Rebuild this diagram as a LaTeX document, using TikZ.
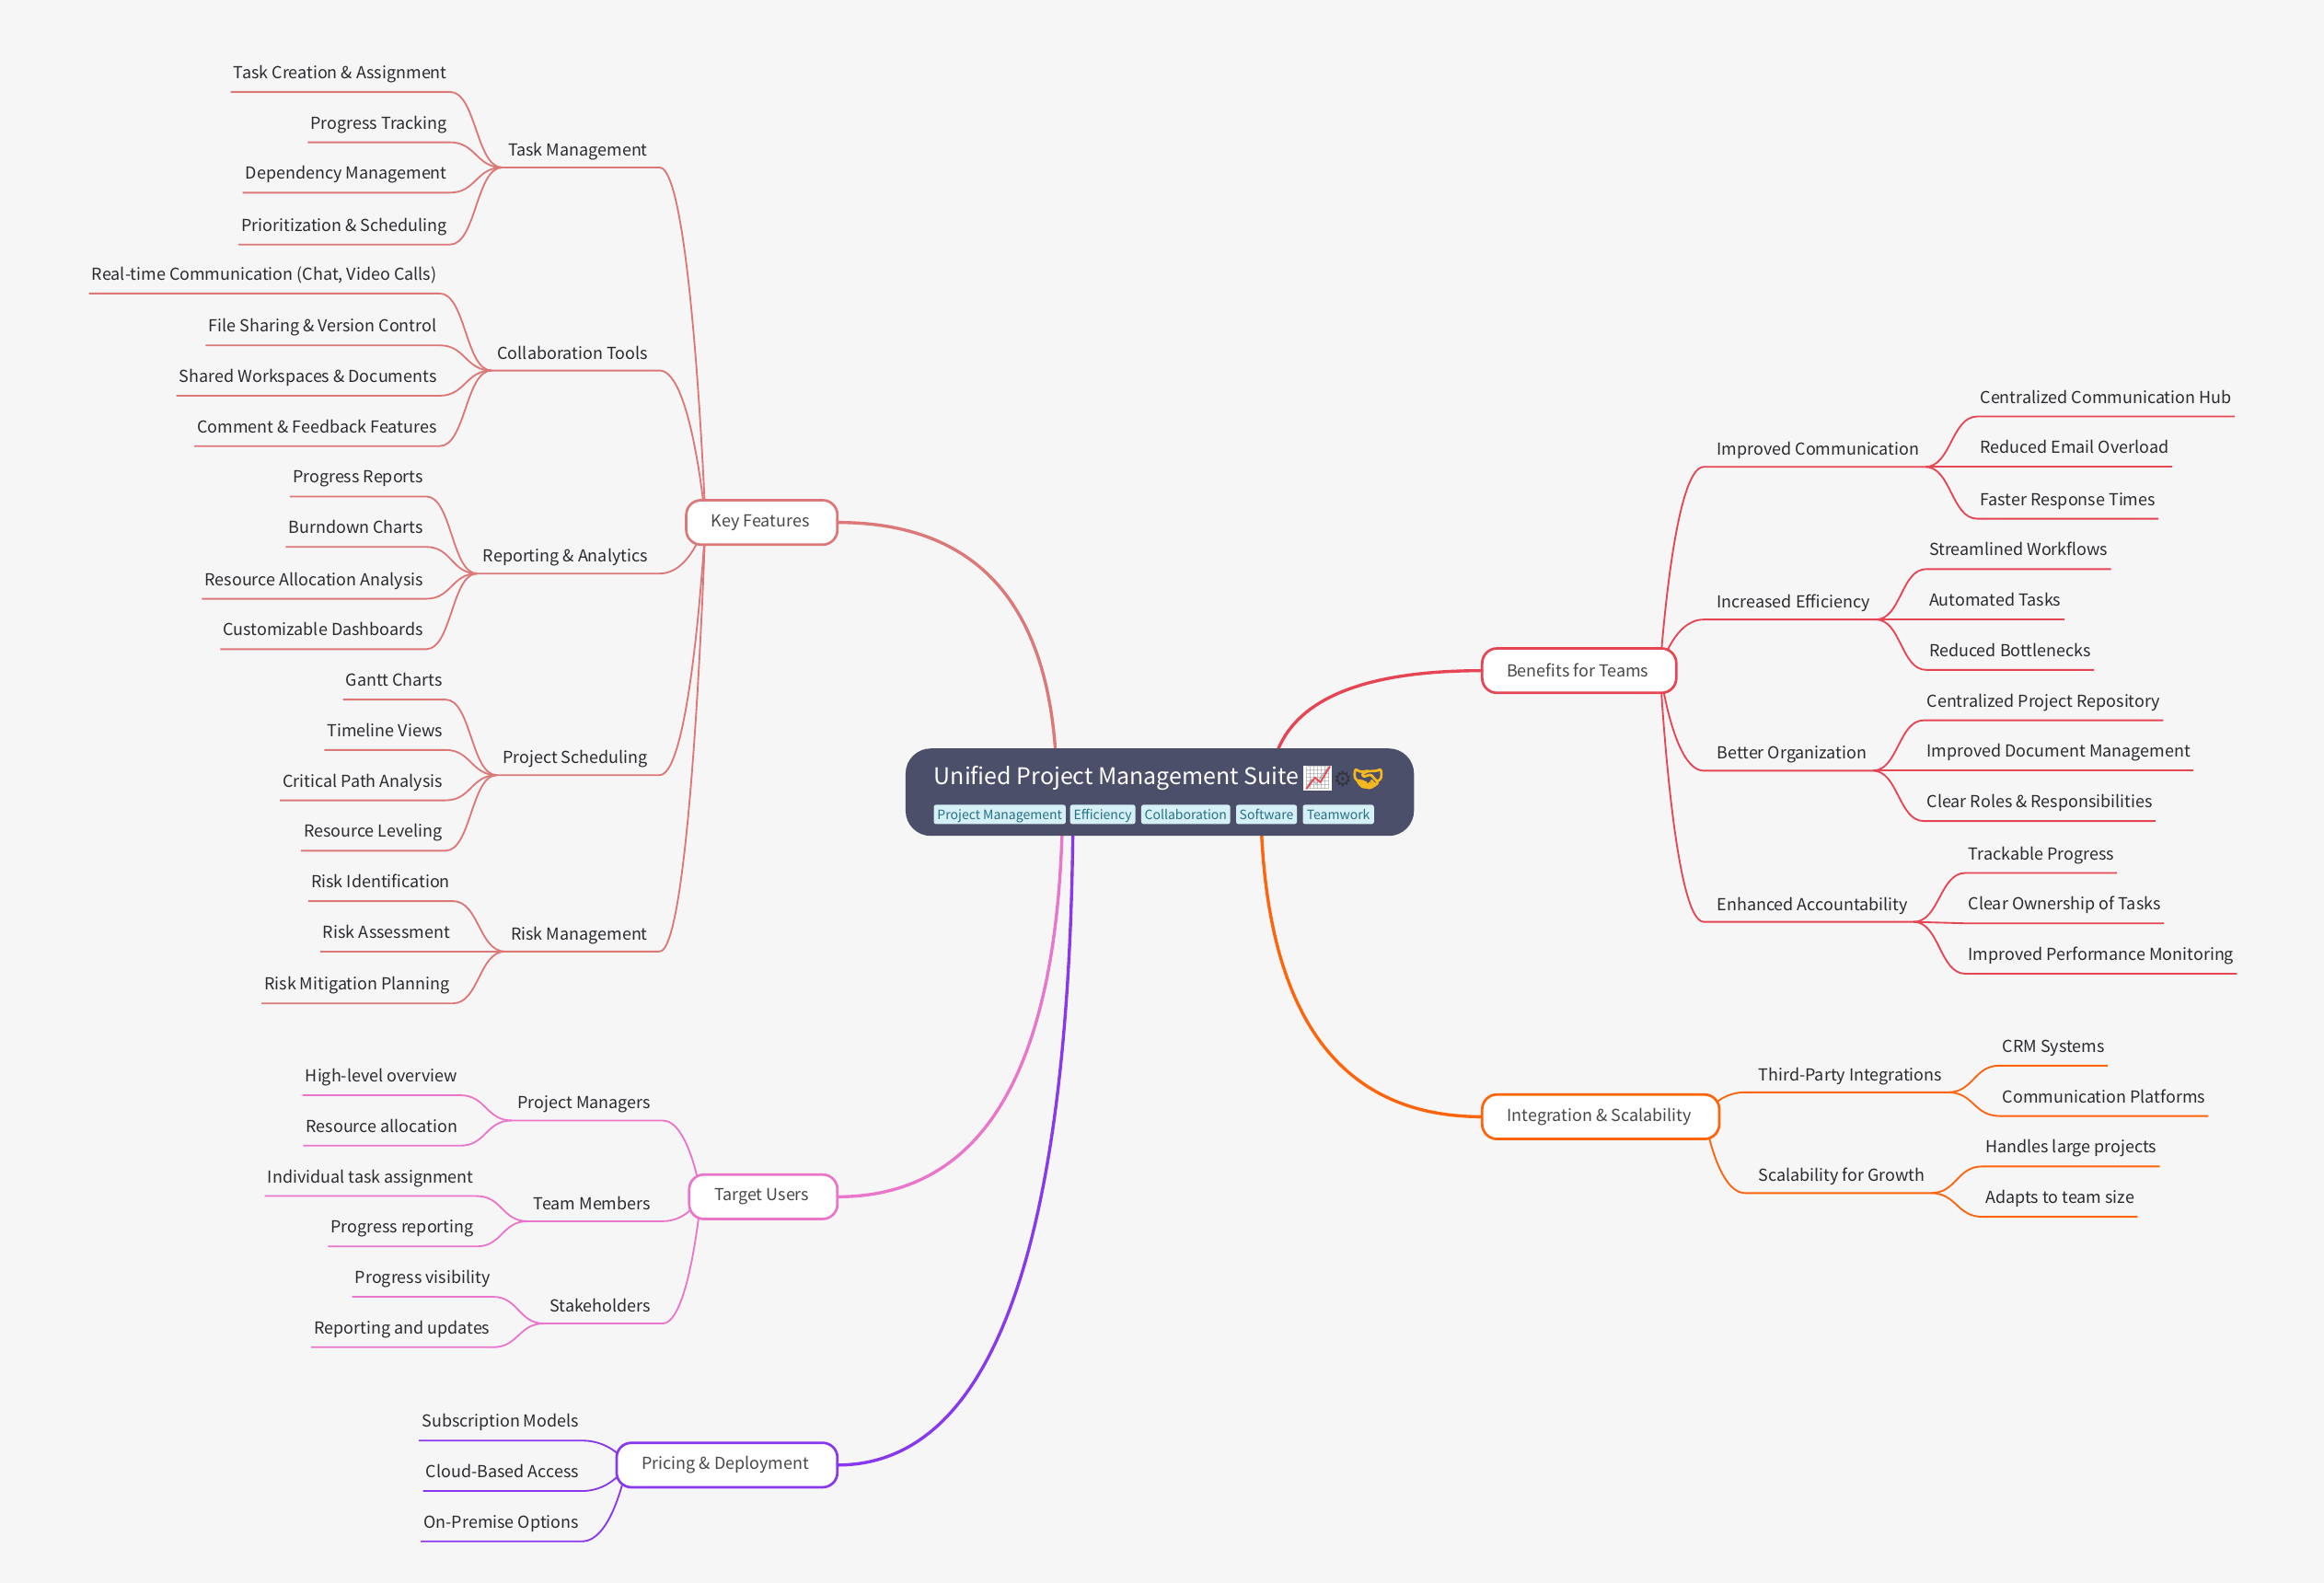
\documentclass[tikz,border=0pt]{standalone}
\usepackage{fontspec}
\setmainfont{Noto Sans CJK SC}
\newfontfamily\emojifont{Noto Emoji}
\newfontfamily\emojibold[FakeBold=6]{Noto Emoji}
\newfontfamily\gearfont{DejaVu Sans}
\usetikzlibrary{calc}
\definecolor{bgc}{HTML}{F6F6F6}
\definecolor{rootc}{HTML}{4C4F69}
\definecolor{kfc}{HTML}{DD7878}
\definecolor{tuc}{HTML}{EA76CB}
\definecolor{prc}{HTML}{8839EF}
\definecolor{bnc}{HTML}{E64553}
\definecolor{inc}{HTML}{FE640B}
\definecolor{tagbg}{HTML}{D6F0F8}
\definecolor{tagfg}{HTML}{276F86}
\definecolor{txtc}{HTML}{2A2A30}
\definecolor{topc}{HTML}{484848}
\definecolor{gearc}{HTML}{33343C}
\definecolor{handc}{HTML}{F5B81F}
\pgfdeclarelayer{bg}
\pgfsetlayers{bg,main}
\tikzset{
 lvlb/.style={font=\fontsize{11.15}{14}\selectfont,text=txtc,inner xsep=4pt,inner ysep=0pt,outer sep=0pt,text height=9.2pt,text depth=7.8pt},
 leaf/.style={lvlb,inner xsep=2pt,text height=8pt,text depth=9pt},
 topic/.style={draw=#1,line width=1.7pt,fill=white,rounded corners=10pt,font=\fontsize{11.15}{14}\selectfont,text=topc,inner sep=0pt,minimum height=30pt,outer sep=0pt,execute at end node=\kern2pt},
 tag/.style={fill=tagbg,text=tagfg,rounded corners=1.5pt,font=\fontsize{8.7}{10}\selectfont,inner sep=0pt,minimum height=13pt,text height=8pt,text depth=1.5pt},
 sublink/.style={draw=#1,line width=1.15pt},
 mainlink/.style={draw=#1,line width=2.1pt},
}
\newcommand{\LL}[4]{\node[lvlb,anchor=south east] (#1) at (#2,#3) {#4};}
\newcommand{\RR}[4]{\node[lvlb,anchor=south west] (#1) at (#2,#3) {#4};}
\newcommand{\LF}[6]{\node[leaf,anchor=south east,xshift=.6pt] (#1) at (#2,#3) {#4};
 \begin{pgfonlayer}{bg}
 \coordinate (m#1) at ($(#5.south west)!.5!(#1.south east)$);
 \draw[sublink=#6] (#5.south west) .. controls (m#1 |- #5.south west) and (m#1 |- #1.south east) .. (#1.south east) -- (#1.south west);
 \end{pgfonlayer}}
\newcommand{\RF}[6]{\node[leaf,anchor=south west,xshift=-.4pt] (#1) at (#2,#3) {#4};
 \begin{pgfonlayer}{bg}
 \coordinate (m#1) at ($(#5.south east)!.5!(#1.south west)$);
 \draw[sublink=#6] (#5.south east) .. controls (m#1 |- #5.south east) and (m#1 |- #1.south west) .. (#1.south west) -- (#1.south east);
 \end{pgfonlayer}}
\newcommand{\SLL}[3]{\begin{pgfonlayer}{bg}
 \coordinate (e#2) at ([xshift=4pt]#2.south east);
 \coordinate (c#2) at ($(#1)!.3!(e#2)$);
 \draw[sublink=#3] (#1) .. controls (#1) and (c#2 |- e#2) .. (e#2) -- (#2.south west);
 \end{pgfonlayer}}
\newcommand{\SLP}[3]{\begin{pgfonlayer}{bg}
 \coordinate (c#2) at ($(#1)!.3!(#2.south east)$);
 \draw[sublink=#3] (#1) .. controls (#1) and (c#2 |- #2.south east) .. (#2.south east) -- (#2.south west);
 \end{pgfonlayer}}
\newcommand{\SLR}[3]{\begin{pgfonlayer}{bg}
 \coordinate (e#2) at ([xshift=-5pt]#2.south west);
 \coordinate (c#2) at ($(#1)!.3!(e#2)$);
 \draw[sublink=#3] (#1) .. controls (#1) and (c#2 |- e#2) .. (e#2) -- (#2.south east);
 \end{pgfonlayer}}
\newcommand{\ML}[3]{\begin{pgfonlayer}{bg}
 \draw[mainlink=#3] (#1) .. controls ($(#1)!.667!(#1 |- #2)$) and ($(#2)!.667!(#1 |- #2)$) .. (#2);
 \end{pgfonlayer}}
\begin{document}
\begin{tikzpicture}[x=1pt,y=-1pt]
\useasboundingbox (0,0) rectangle (1568,1068.1);
\begin{pgfonlayer}{bg}
\fill[bgc] (0,0) rectangle (1568,1068.1);
\end{pgfonlayer}

% root
\node[fill=rootc,rounded corners=17pt,minimum width=343pt,minimum height=59pt,inner sep=0pt,outer sep=0pt] (root) at (782.5,534.5) {};
\node[anchor=west,text=white,font=\fontsize{15.5}{20}\selectfont,inner sep=0pt] (title) at (630,525) {Unified Project Management Suite};
\node[anchor=center,fill=white,minimum width=17pt,minimum height=17pt,inner sep=0pt,text=black!35,font=\emojifont\fontsize{15}{15}\selectfont] (em1) at (889,525) {📈};
\draw[bnc,line width=1.1pt] (881.3,532.4) -- (887.2,524.7) -- (890.8,527.8) -- (897.4,517);
\node[anchor=center,inner sep=0pt,text=gearc,font=\gearfont\fontsize{14}{15}\selectfont] (em2) at (906,525.5) {⚙};
\node[anchor=center,inner sep=0pt,text=handc,font=\emojibold\fontsize{17}{15}\selectfont] (em3) at (923,525.5) {🤝};
\node[tag,minimum width=89pt] (t1) at (674.5,549.5) {Project Management};
\node[tag,minimum width=44pt] (t2) at (744,549.5) {Efficiency};
\node[tag,minimum width=60pt] (t3) at (800,549.5) {Collaboration};
\node[tag,minimum width=41pt] (t4) at (854.5,549.5) {Software};
\node[tag,minimum width=48pt] (t5) at (903,549.5) {Teamwork};

\coordinate (rk) at (713,534);
\coordinate (rt) at (717,534);
\coordinate (rp) at (724,534);
\coordinate (rb) at (857,534);
\coordinate (ri) at (850.5,534);

% first level
\node[topic=kfc,minimum width=102pt] (kf) at (514,352.5) {Key Features};
\node[topic=tuc,minimum width=100pt] (tu) at (515,807.5) {Target Users};
\node[topic=prc,minimum width=149pt] (pr) at (490.5,988.5) {Pricing \& Deployment};
\node[topic=bnc,minimum width=131pt] (bn) at (1065.5,452.5) {Benefits for Teams};
\node[topic=inc,minimum width=160pt] (in) at (1080,753.5) {Integration \& Scalability};
\ML{rk}{kf.east}{kfc}
\ML{rt}{tu.east}{tuc}
\ML{rp}{pr.east}{prc}
\ML{rb}{bn.west}{bnc}
\ML{ri}{in.west}{inc}

\coordinate (skf) at (476,352);
\coordinate (stu) at (473,807);
\coordinate (spr) at (423,988);
\coordinate (sbn) at (1120,452);
\coordinate (sin) at (1150,753);

% Key Features
\LL{tm}{441}{113}{Task Management}\SLL{skf}{tm}{kfc}
\LF{a1}{303}{62}{Task Creation \& Assignment}{tm}{kfc}
\LF{a2}{303}{96}{Progress Tracking}{tm}{kfc}
\LF{a3}{303}{130}{Dependency Management}{tm}{kfc}
\LF{a4}{303}{165}{Prioritization \& Scheduling}{tm}{kfc}
\LL{ct}{441}{250}{Collaboration Tools}\SLL{skf}{ct}{kfc}
\LF{b1}{296}{198}{Real-time Communication (Chat, Video Calls)}{ct}{kfc}
\LF{b2}{296}{233}{File Sharing \& Version Control}{ct}{kfc}
\LF{b3}{296}{267}{Shared Workspaces \& Documents}{ct}{kfc}
\LF{b4}{296}{301}{Comment \& Feedback Features}{ct}{kfc}
\LL{ra}{441}{387}{Reporting \& Analytics}\SLL{skf}{ra}{kfc}
\LF{c1}{287}{335}{Progress Reports}{ra}{kfc}
\LF{c2}{287}{369}{Burndown Charts}{ra}{kfc}
\LF{c3}{287}{404}{Resource Allocation Analysis}{ra}{kfc}
\LF{c4}{287}{438}{Customizable Dashboards}{ra}{kfc}
\LL{ps}{441}{523}{Project Scheduling}\SLL{skf}{ps}{kfc}
\LF{d1}{300}{472}{Gantt Charts}{ps}{kfc}
\LF{d2}{300}{506}{Timeline Views}{ps}{kfc}
\LF{d3}{300}{540}{Critical Path Analysis}{ps}{kfc}
\LF{d4}{300}{574}{Resource Leveling}{ps}{kfc}
\LL{rm}{441}{642}{Risk Management}\SLL{skf}{rm}{kfc}
\LF{e1}{305}{608}{Risk Identification}{rm}{kfc}
\LF{e2}{305}{642}{Risk Assessment}{rm}{kfc}
\LF{e3}{305}{677}{Risk Mitigation Planning}{rm}{kfc}

% Target Users
\LL{pm}{443}{756}{Project Managers}\SLL{stu}{pm}{tuc}
\LF{f1}{310}{739}{High-level overview}{pm}{tuc}
\LF{f2}{310}{773}{Resource allocation}{pm}{tuc}
\LL{tmm}{443}{824}{Team Members}\SLL{stu}{tmm}{tuc}
\LF{g1}{321}{807}{Individual task assignment}{tmm}{tuc}
\LF{g2}{321}{841}{Progress reporting}{tmm}{tuc}
\LL{sh}{443}{893}{Stakeholders}\SLL{stu}{sh}{tuc}
\LF{h1}{332}{875}{Progress visibility}{sh}{tuc}
\LF{h2}{332}{909}{Reporting and updates}{sh}{tuc}

% Pricing
\node[leaf,anchor=south east,xshift=.6pt] (p1) at (392,972) {Subscription Models}; \SLP{spr}{p1}{prc}
\node[leaf,anchor=south east,xshift=.6pt] (p2) at (392,1006) {Cloud-Based Access}; \SLP{spr}{p2}{prc}
\node[leaf,anchor=south east,xshift=.6pt] (p3) at (392,1040) {On-Premise Options}; \SLP{spr}{p3}{prc}

% Benefits
\RR{ic}{1154.5}{315}{Improved Communication}\SLR{sbn}{ic}{bnc}
\RF{i1}{1334.5}{281}{Centralized Communication Hub}{ic}{bnc}
\RF{i2}{1334.5}{315}{Reduced Email Overload}{ic}{bnc}
\RF{i3}{1334.5}{350}{Faster Response Times}{ic}{bnc}
\RR{ie}{1154.5}{418}{Increased Efficiency}\SLR{sbn}{ie}{bnc}
\RF{j1}{1300}{384}{Streamlined Workflows}{ie}{bnc}
\RF{j2}{1300}{418}{Automated Tasks}{ie}{bnc}
\RF{j3}{1300}{452}{Reduced Bottlenecks}{ie}{bnc}
\RR{bo}{1154.5}{520}{Better Organization}\SLR{sbn}{bo}{bnc}
\RF{k1}{1298.5}{486}{Centralized Project Repository}{bo}{bnc}
\RF{k2}{1298.5}{520}{Improved Document Management}{bo}{bnc}
\RF{k3}{1298.5}{554}{Clear Roles \& Responsibilities}{bo}{bnc}
\RR{ea}{1154.5}{622}{Enhanced Accountability}\SLR{sbn}{ea}{bnc}
\RF{l1}{1326.5}{589}{Trackable Progress}{ea}{bnc}
\RF{l2}{1326.5}{623}{Clear Ownership of Tasks}{ea}{bnc}
\RF{l3}{1326.5}{657}{Improved Performance Monitoring}{ea}{bnc}

% Integration
\RR{tp}{1182.5}{737}{Third-Party Integrations}\SLR{sin}{tp}{inc}
\RF{n1}{1349.5}{719}{CRM Systems}{tp}{inc}
\RF{n2}{1349.5}{753}{Communication Platforms}{tp}{inc}
\RR{sg}{1182.5}{805}{Scalability for Growth}\SLR{sin}{sg}{inc}
\RF{o1}{1338}{787}{Handles large projects}{sg}{inc}
\RF{o2}{1338}{821}{Adapts to team size}{sg}{inc}
\end{tikzpicture}
\end{document}
